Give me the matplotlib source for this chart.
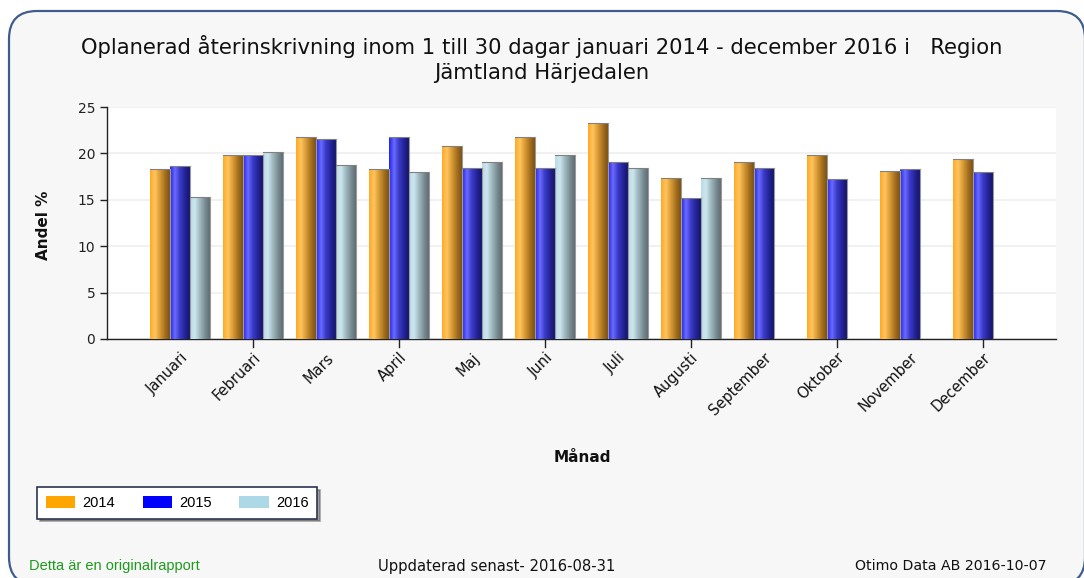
import numpy as np
import matplotlib
matplotlib.use("Agg")
import matplotlib.pyplot as plt
from matplotlib.patches import FancyBboxPatch, Patch
from matplotlib.colors import LinearSegmentedColormap

months = ["Januari", "Februari", "Mars", "April", "Maj", "Juni", "Juli",
          "Augusti", "September", "Oktober", "November", "December"]
years = ["2014", "2015", "2016"]
v2014 = [18.3, 19.8, 21.8, 18.3, 20.8, 21.8, 23.3, 17.3, 19.1, 19.8, 18.1, 19.4]
v2015 = [18.6, 19.8, 21.5, 21.8, 18.4, 18.4, 19.1, 15.2, 18.4, 17.2, 18.3, 18.0]
v2016 = [15.3, 20.1, 18.7, 18.0, 19.1, 19.8, 18.4, 17.4]
series = [v2014, v2015, v2016]
legend_colors = ["#FFA500", "#0000FF", "#ADD8E6"]
grad_stops = [
    ["#FFA826", "#FFC55E", "#D89A35", "#9C6A1C", "#7A5012"],
    ["#2020F0", "#6A6AFF", "#3A3AC8", "#20208E", "#14146A"],
    ["#B8DCE8", "#CDE6EE", "#9FB8C0", "#74868C", "#5E6C72"],
]

W, H = 1084, 578
fig = plt.figure(figsize=(W / 100, H / 100), dpi=100)
fig.patch.set_facecolor("white")

# background panel with rounded border
bg = fig.add_axes([0, 0, 1, 1], zorder=-10)
bg.set_xlim(0, W); bg.set_ylim(H, 0); bg.axis("off")
bg.add_patch(FancyBboxPatch((9, 11), W - 8, H - 4,
                            boxstyle="round,pad=0,rounding_size=28",
                            facecolor="#F7F7F7", edgecolor="#3E5C8C", lw=1.6))

x0, x1, y0, y1 = 107, 1056, 107, 339
ax = fig.add_axes([x0 / W, 1 - y1 / H, (x1 - x0) / W, (y1 - y0) / H])
ax.set_facecolor("white")
ax.set_xlim(0, 13)
ax.set_ylim(0, 25)

bw = 20 / 73
offsets = [-bw, 0, bw]
xs = np.arange(1, 13)
for si, vals in enumerate(series):
    cmap = LinearSegmentedColormap.from_list(
        "g%d" % si, list(zip([0, 0.25, 0.5, 0.8, 1.0], grad_stops[si])))
    for i, v in enumerate(vals):
        xc = xs[i] + offsets[si]
        b = ax.bar(xc, v, width=bw, color=legend_colors[si], edgecolor="none", zorder=2)[0]
        im = ax.imshow(np.linspace(0, 1, 256)[None, :], cmap=cmap, aspect="auto", zorder=3,
                       extent=[xc - bw / 2, xc + bw / 2, 0, v])
        im.set_clip_path(b)
        ax.plot([xc - bw / 2, xc + bw / 2], [v, v], color="#808080", lw=0.8, zorder=4)
        ax.plot([xc + bw / 2, xc + bw / 2], [0, v], color="#9A9A9A", lw=0.8, zorder=4)
ax.set_xlim(0, 13)
ax.set_ylim(0, 25)

ax.set_yticks([0, 5, 10, 15, 20, 25])
ax.yaxis.grid(True, color="#EFEFEF", lw=1.2, zorder=0)
ax.set_axisbelow(True)
for s in ["top", "right"]:
    ax.spines[s].set_visible(False)
for s in ["left", "bottom"]:
    ax.spines[s].set_color("#222222")
    ax.spines[s].set_linewidth(1.0)
ax.tick_params(axis="y", labelsize=10, colors="#222222", length=5, width=1)
ax.set_xticks(xs)
ax.set_xticklabels(months, rotation=45, ha="right", rotation_mode="anchor",
                   fontsize=10.5, color="#111111")
ax.tick_params(axis="x", length=0, pad=8)
for xt in range(2, 13, 2):
    ax.plot([xt, xt], [0, -0.9], color="#222222", lw=1, clip_on=False, zorder=5)

fig.text(0.5, 1 - 47 / H, "Oplanerad återinskrivning inom 1 till 30 dagar januari 2014 - december 2016 i   Region",
         ha="center", va="center", fontsize=15.2, color="#111111")
fig.text(0.5, 1 - 73 / H, "Jämtland Härjedalen", ha="center", va="center",
         fontsize=15.2, color="#111111")
fig.text(44 / W, 1 - 225 / H, "Andel %", rotation=90, ha="center", va="center",
         fontsize=11, fontweight="bold", color="#111111")
fig.text(582 / W, 1 - 457 / H, "Månad", ha="center", va="center",
         fontsize=11, fontweight="bold", color="#111111")

handles = [Patch(facecolor=c, edgecolor="none") for c in legend_colors]
leg = fig.legend(handles, years, loc="upper left", bbox_to_anchor=(37 / W, 1 - 487 / H),
                 ncol=3, frameon=True, fancybox=False, shadow=True,
                 handlelength=2.0, handleheight=0.9, columnspacing=1.9,
                 borderpad=0.6, handletextpad=0.5, borderaxespad=0,
                 prop={"family": "Liberation Sans", "size": 10.5})
leg.get_frame().set_edgecolor("#2A3550")
leg.get_frame().set_linewidth(1.2)

fig.text(29 / W, 1 - 566 / H, "Detta är en originalrapport", ha="left", va="center",
         fontsize=10.5, color="#1E9A1E", family="Liberation Sans")
fig.text(497 / W, 1 - 566 / H, "Uppdaterad senast- 2016-08-31", ha="center", va="center",
         fontsize=10.6, color="#111111")
fig.text(1047 / W, 1 - 566 / H, "Otimo Data AB 2016-10-07", ha="right", va="center",
         fontsize=10.2, color="#111111")

fig.savefig("out.png", dpi=100)
